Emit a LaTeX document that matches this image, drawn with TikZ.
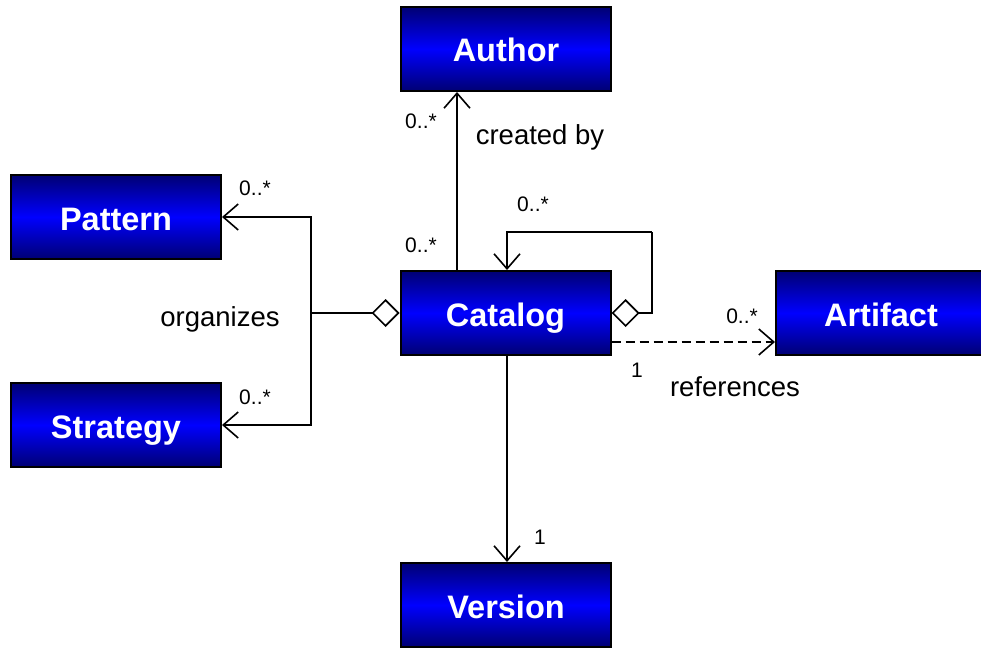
\documentclass[tikz,border=0pt]{standalone}
\usepackage{fontspec}
\setmainfont{Liberation Sans}
\usetikzlibrary{arrows.meta}
\definecolor{boxdark}{RGB}{0,0,115}
\definecolor{boxlight}{RGB}{0,0,255}
\begin{document}
\begin{tikzpicture}[x=1pt,y=-1pt,
  classbox/.style={draw=black, line width=2pt, minimum width=210pt, minimum height=84pt,
    inner sep=0pt, text height=26pt, text depth=0pt,
    top color=boxdark, bottom color=boxdark, middle color=boxlight,
    text=white, font=\fontsize{32.5}{36}\selectfont\bfseries},
  link/.style={line width=1.6pt},
  opentip/.style={-{Straight Barb[length=15pt,width=26pt,line width=1.6pt]}},
  aggr/.style={{Diamond[open,length=28pt,width=28pt,line width=1.6pt,fill=white]}-},
  mult/.style={font=\fontsize{21}{24}\selectfont},
  role/.style={font=\fontsize{27.5}{31}\selectfont}]
\clip (0,0) rectangle (981,647);
\fill[white] (0,0) rectangle (981,647);

% classes
\node[classbox] (author)   at (506,49)  {Author};
\node[classbox] (catalog)  at (505.5,313) {Catalog};
\node[classbox] (pattern)  at (116,217) {Pattern};
\node[classbox] (strategy) at (116,425) {Strategy};
\node[classbox] (artifact) at (881,313) {Artifact};
\node[classbox] (version)  at (506,605) {Version};

% routing guides
\coordinate (ax) at (457,0);
\coordinate (cx) at (507,0);
\coordinate (loop) at (652,232);
\coordinate (junction) at (311,313);
\coordinate (dy) at (0,342);

% created by
\draw[link,opentip] (catalog.north -| ax) -- (author.south -| ax);
% self association
\draw[link,aggr] (catalog.east) -| (loop);
\draw[link,opentip] (loop) -| (catalog.north -| cx);
% organizes
\draw[link,aggr] (catalog.west) -- (junction);
\draw[link,opentip] (junction) |- (pattern.east);
\draw[link,opentip] (junction) |- (strategy.east);
% references
\draw[link,opentip,dashed,dash pattern=on 9pt off 5pt] (catalog.east |- dy) -- (artifact.west |- dy);
% version
\draw[link,opentip] (catalog.south -| cx) -- (version.north -| cx);

% labels
\node[mult] (m1) at (421,121) {0..*};
\node[mult] (m2) at (421,245) {0..*};
\node[role] (r1) at (540,137) {created by};
\node[mult] (m3) at (533,204) {0..*};
\node[mult] (m4) at (255,188) {0..*};
\node[mult] (m5) at (255,397) {0..*};
\node[role] (r2) at (220,319) {organizes};
\node[mult] (m6) at (742,316) {0..*};
\node[mult] (m7) at (637,370) {1};
\node[role] (r3) at (735,387) {references};
\node[mult] (m8) at (540,537) {1};
\end{tikzpicture}
\end{document}
